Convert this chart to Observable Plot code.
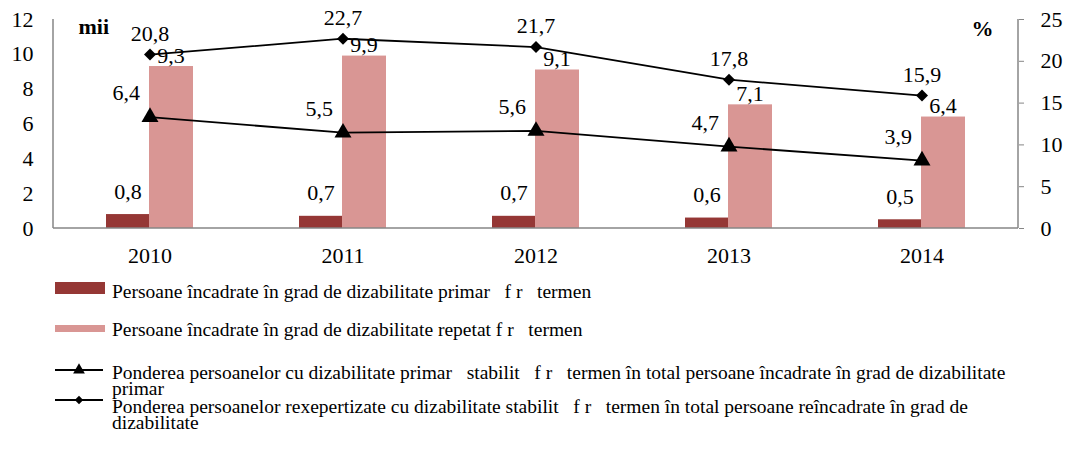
<!DOCTYPE html>
<html><head><meta charset="utf-8">
<script src="https://cdn.jsdelivr.net/npm/d3@7"></script>
<script src="https://cdn.jsdelivr.net/npm/@observablehq/plot@0.6"></script>
<style>
body{margin:0;background:#fff;font-family:"Liberation Serif","DejaVu Serif",serif;}
#wrap{position:relative;width:1065px;height:450px;overflow:hidden;}
#wrap svg{display:block;}
.leg{position:absolute;left:112px;width:905px;font-family:"Liberation Serif","DejaVu Serif",serif;font-size:19.5px;line-height:16px;white-space:pre-wrap;color:#000;}
.sym{position:absolute;left:55px;}
</style></head><body><div id="wrap"></div>
<script>
const years = ["2010","2011","2012","2013","2014"];
const primar = [0.8, 0.7, 0.7, 0.6, 0.5];
const repetat = [9.3, 9.9, 9.1, 7.1, 6.4];
const pondPrimar = [6.4, 5.5, 5.6, 4.7, 3.9];
const pondRex = [20.8, 22.7, 21.7, 17.8, 15.9];
const leftTicks = [0, 2, 4, 6, 8, 10, 12];
const rightTicks = [0, 5, 10, 15, 20, 25];
const leftUnit = "mii";
const rightUnit = "%";
const seriesNames = [
  "Persoane încadrate în grad de dizabilitate primar   f r   termen",
  "Persoane încadrate în grad de dizabilitate repetat f r   termen",
  "Ponderea persoanelor cu dizabilitate primar   stabilit   f r   termen în total persoane încadrate în grad de dizabilitate primar",
  "Ponderea persoanelor rexepertizate cu dizabilitate stabilit   f r   termen în total persoane reîncadrate în grad de dizabilitate"
];

const DARK = "#953735", PINK = "#D99694", GRAY = "#868686";
const FONT = "'Liberation Serif','DejaVu Serif',serif";
const k = 12 / 25; // right axis (0–25 %) onto left axis (0–12 mii)
const fmt = d => d.toFixed(1).replace(".", ",");
const rows = years.map((y, i) => ({year: y, primar: primar[i], repetat: repetat[i], pp: pondPrimar[i], pr: pondRex[i]}));

const chart = Plot.plot({
  width: 1065, height: 270,
  marginLeft: 53, marginRight: 47, marginTop: 19, marginBottom: 42,
  style: {fontFamily: FONT, fontSize: "22px", color: "#000", background: "#fff"},
  x: {type: "band", domain: years, padding: 0},
  y: {domain: [0, 12]},
  marks: [
    Plot.barY(rows, {x: "year", y: "primar", fill: DARK, insetLeft: 53, insetRight: 97}),
    Plot.barY(rows, {x: "year", y: "repetat", fill: PINK, insetLeft: 96, insetRight: 53}),
    Plot.axisY(leftTicks, {anchor: "left", tickSize: 0, tickPadding: 20, label: null, fill: "#000", fontFamily: FONT}),
    Plot.axisY(rightTicks.map(v => v * k), {anchor: "right", tickSize: 5, tickPadding: 17, stroke: GRAY, fill: "#000", label: null, fontFamily: FONT, tickFormat: d => String(Math.round(d / k))}),
    Plot.axisX({tickSize: 0, tickPadding: 19, label: null, fill: "#000", fontFamily: FONT}),
    Plot.lineY(rows, {x: "year", y: "pp", stroke: "#000", strokeWidth: 1.8}),
    Plot.dot(rows, {x: "year", y: "pp", symbol: "triangle", r: 6.3, fill: "#000", stroke: "none"}),
    Plot.lineY(rows, {x: "year", y: d => d.pr * k, stroke: "#000", strokeWidth: 1.8}),
    Plot.dot(rows, {x: "year", y: d => d.pr * k, symbol: "diamond2", r: 5.4, fill: "#000", stroke: "none"}),
    Plot.text(rows, {x: "year", y: "primar", text: d => fmt(d.primar), dx: -22, dy: -16, lineAnchor: "bottom", fill: "#000", fontFamily: FONT}),
    Plot.text(rows, {x: "year", y: "repetat", text: d => fmt(d.repetat), dx: 21, dy: -4, lineAnchor: "bottom", fill: "#000", fontFamily: FONT}),
    Plot.text(rows, {x: "year", y: "pp", text: d => fmt(d.pp), textAnchor: "end", dx: -10, dy: -17, lineAnchor: "bottom", fill: "#000", fontFamily: FONT}),
    Plot.text(rows, {x: "year", y: d => d.pr * k, text: d => fmt(d.pr), dy: -14, lineAnchor: "bottom", fill: "#000", fontFamily: FONT}),
    Plot.text([leftUnit], {text: d => d, frameAnchor: "top-left", textAnchor: "start", lineAnchor: "bottom", dx: 25, dy: 14, fontWeight: "bold", fill: "#000", fontFamily: FONT}),
    Plot.text([rightUnit], {text: d => d, frameAnchor: "top-right", textAnchor: "end", lineAnchor: "bottom", dx: -25, dy: 16, fontWeight: "bold", fill: "#000", fontFamily: FONT})
  ]
});

// axis lines drawn from the scales
const xs = chart.scale("x"), ys = chart.scale("y");
const [x0, x1] = xs.range, [y0, y1] = ys.range;
const g = d3.select(chart).append("g").attr("stroke", GRAY).attr("stroke-width", 1.5);
g.append("line").attr("x1", x0).attr("x2", x0).attr("y1", y0).attr("y2", y1);
g.append("line").attr("x1", x1).attr("x2", x1).attr("y1", y0).attr("y2", y1);
g.append("line").attr("x1", x0).attr("x2", x1).attr("y1", y0).attr("y2", y0);

const wrap = document.getElementById("wrap");
wrap.appendChild(chart);

// legend
const tops = [284, 322, 365, 399];
const symY = [288, 328, 370, 400];
seriesNames.forEach((name, i) => {
  const t = document.createElement("div");
  t.className = "leg";
  t.style.top = tops[i] + "px";
  t.textContent = name;
  wrap.appendChild(t);
  const s = d3.create("svg").attr("class", "sym").attr("width", 52).attr("height", 16)
    .style("top", (symY[i] - 8) + "px");
  if (i === 0) s.append("rect").attr("x", 0).attr("y", 2).attr("width", 50).attr("height", 12).attr("fill", DARK);
  else if (i === 1) s.append("rect").attr("x", 0).attr("y", 5).attr("width", 50).attr("height", 7).attr("fill", PINK);
  else {
    s.append("line").attr("x1", 0).attr("x2", 48).attr("y1", 8).attr("y2", 8).attr("stroke", "#000").attr("stroke-width", 1.8);
    const sym = i === 2 ? d3.symbolTriangle : d3.symbolDiamond2;
    const size = i === 2 ? 60 : 45;
    s.append("path").attr("d", d3.symbol(sym, size)()).attr("transform", "translate(24,8)").attr("fill", "#000");
  }
  wrap.appendChild(s.node());
});
</script></body></html>
